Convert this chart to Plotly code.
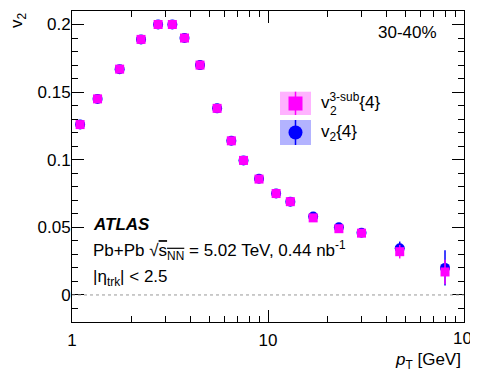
import plotly.graph_objects as go

# --- DATA ---
pt = [1.1, 1.35, 1.75, 2.25, 2.75, 3.25, 3.75, 4.5, 5.5, 6.5, 7.5, 9, 11, 13, 17, 23, 30, 47, 80]
v2_3sub = [0.126, 0.145, 0.167, 0.189, 0.200, 0.200, 0.190, 0.170, 0.138, 0.114, 0.0995,
           0.0857, 0.075, 0.069, 0.057, 0.049, 0.0457, 0.032, 0.017]
v2_3sub_err = [0.0003, 0.0003, 0.0003, 0.0003, 0.0003, 0.0003, 0.0003, 0.0003, 0.0003, 0.0004,
               0.0004, 0.0005, 0.0006, 0.0008, 0.001, 0.0015, 0.002, 0.005, 0.009]
v2_4 = [0.126, 0.145, 0.167, 0.189, 0.200, 0.200, 0.190, 0.170, 0.138, 0.114, 0.0995,
        0.086, 0.075, 0.069, 0.058, 0.050, 0.046, 0.0345, 0.020]
v2_4_err = [0.0002, 0.0002, 0.0002, 0.0002, 0.0002, 0.0002, 0.0002, 0.0002, 0.0003, 0.0003,
            0.0003, 0.0004, 0.0005, 0.0006, 0.0008, 0.0012, 0.0018, 0.005, 0.013]

x_tickvals = [1, 10, 100]
x_ticktext = ["1", "10", ""]  # "10^2" is drawn as an annotation (ROOT puts it flush right)
x_minor = [2, 3, 4, 5, 6, 7, 8, 9, 20, 30, 40, 50, 60, 70, 80, 90]
y_tickvals = [0, 0.05, 0.1, 0.15, 0.2]
y_ticktext = ["0", "0.05", "0.1", "0.15", "0.2"]
y_minor = [round(-0.02 + 0.01 * i, 2) for i in range(24)]

FONT = "Liberation Sans, Arial, sans-serif"
MAGENTA = "#ff00ff"
BLUE = "#0000ff"

# page body has an 8px margin, so the figure is made 8px smaller
OFF = 8
W, H = 478 - OFF, 379 - OFF
ML, MR, MT, MB = 72 - OFF, 14, 11 - OFF, 57

fig = go.Figure()
fig.add_trace(
    go.Scatter(
        x=pt, y=v2_4, mode="markers",
        marker=dict(symbol="circle", size=10, color=BLUE),
        error_y=dict(type="data", array=v2_4_err, color=BLUE, thickness=1.5, width=0),
        showlegend=False,
    )
)
fig.add_trace(
    go.Scatter(
        x=pt, y=v2_3sub, mode="markers",
        marker=dict(symbol="square", size=9, color=MAGENTA),
        error_y=dict(type="data", array=v2_3sub_err, color=MAGENTA, thickness=1.5, width=0),
        showlegend=False,
    )
)

# zero line
fig.add_shape(type="line", xref="paper", yref="y", x0=0, x1=1, y0=0, y1=0,
              line=dict(color="#999999", width=1, dash="3px,3px"))


# reference-pixel -> paper coordinates (plot frame 72..464 x 11..322)
def px_x(p):
    return (p - 72) / 392


def px_y(p):
    return (322 - p) / 311


# hand-made legend (ROOT style)
shapes = [
    dict(type="rect", x0=px_x(280), x1=px_x(311), y0=px_y(115), y1=px_y(91.7),
         fillcolor="#ffb3ff", line=dict(width=0)),
    dict(type="line", x0=px_x(295.5), x1=px_x(295.5), y0=px_y(115), y1=px_y(91.7),
         line=dict(color=MAGENTA, width=1.5)),
    dict(type="rect", x0=px_x(288.5), x1=px_x(302.5), y0=px_y(110.5), y1=px_y(96.5),
         fillcolor=MAGENTA, line=dict(width=0)),
    dict(type="rect", x0=px_x(280), x1=px_x(311), y0=px_y(145), y1=px_y(120),
         fillcolor="#b3b3ff", line=dict(width=0)),
    dict(type="line", x0=px_x(295.5), x1=px_x(295.5), y0=px_y(145), y1=px_y(120),
         line=dict(color=BLUE, width=1.5)),
    dict(type="circle", x0=px_x(288.5), x1=px_x(302.5), y0=px_y(139.5), y1=px_y(125.5),
         fillcolor=BLUE, line=dict(width=0)),
]
for s in shapes:
    s.update(xref="paper", yref="paper", layer="above")
    fig.add_shape(**s)

txt = dict(family=FONT, size=17, color="black")
annotations = [
    dict(text="30-40%", x=px_x(439), y=px_y(33), xanchor="right", yanchor="middle"),
    dict(text="<b><i>ATLAS</i></b>", x=px_x(91), y=px_y(224), xanchor="left", yanchor="middle"),
    dict(text="Pb+Pb √<span style='text-decoration:overline'>s<sub>NN</sub></span>"
              " = 5.02 TeV, 0.44 nb<sup>-1</sup>",
         x=px_x(91), y=px_y(250), xanchor="left", yanchor="middle"),
    dict(text="|η<sub>trk</sub>| < 2.5", x=px_x(91), y=px_y(278), xanchor="left", yanchor="middle"),
    dict(text="v<sup>3-sub</sup>{4}", x=px_x(319), y=px_y(101), xanchor="left", yanchor="middle"),
    dict(text="2", x=px_x(328), y=px_y(111), xanchor="left", yanchor="middle",
         font=dict(family=FONT, size=12, color="black")),
    dict(text="v<sub>2</sub>{4}", x=px_x(319), y=px_y(133), xanchor="left", yanchor="middle"),
    dict(text="10<sup>2</sup>", x=px_x(451), y=px_y(337), xanchor="left", yanchor="middle"),
    dict(text="<i>p</i><sub>T</sub> [GeV]", x=px_x(463), y=px_y(361), xanchor="right",
         yanchor="middle"),
    dict(text="v<sub>2</sub>", x=px_x(18), y=px_y(10), xanchor="center", yanchor="top",
         textangle=-90),
]
for a in annotations:
    a.setdefault("font", txt)
    fig.add_annotation(xref="paper", yref="paper", showarrow=False, **a)

axis_common = dict(
    ticks="inside", ticklen=12, tickwidth=1, tickcolor="black",
    showline=True, linecolor="black", linewidth=1, mirror="allticks",
    showgrid=False, zeroline=False,
    tickfont=dict(family=FONT, size=17, color="black"),
)

fig.update_xaxes(
    type="log", range=[0, 2],
    tickmode="array", tickvals=x_tickvals, ticktext=x_ticktext,
    minor=dict(tickmode="array", tickvals=x_minor, ticks="inside", ticklen=6,
               tickcolor="black", tickwidth=1),
    ticklabelstandoff=3,
    **axis_common,
)
fig.update_yaxes(
    range=[-0.02, 0.21],
    tickmode="array", tickvals=y_tickvals, ticktext=y_ticktext,
    minor=dict(tickmode="array", tickvals=y_minor, ticks="inside", ticklen=6,
               tickcolor="black", tickwidth=1),
    ticklabelstandoff=-3,
    **axis_common,
)

fig.update_layout(
    width=W, height=H,
    margin=dict(l=ML, r=MR, t=MT, b=MB, autoexpand=False),
    paper_bgcolor="white", plot_bgcolor="white",
    font=dict(family=FONT, color="black"),
)

fig.write_html("out.html")
